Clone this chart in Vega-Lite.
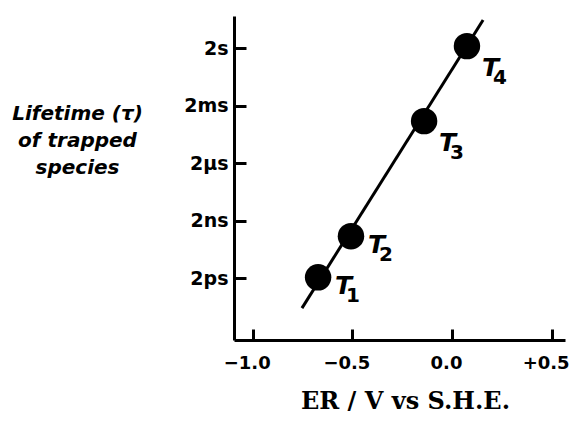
{
  "$schema": "https://vega.github.io/schema/vega-lite/v6.json",
  "width": 331,
  "height": 324,
  "autosize": "none",
  "padding": {"left": 234, "top": 16, "right": 4, "bottom": 86},
  "background": "white",
  "config": {"view": {"stroke": null}},
  "datasets": {
    "pts": [
      {"E": -0.672, "logtau": -11.95, "label": "T", "sub": "1", "grp": "a"},
      {"E": -0.507, "logtau": -9.81, "label": "T", "sub": "2", "grp": "a"},
      {"E": -0.14, "logtau": -3.81, "label": "T", "sub": "3", "grp": "b"},
      {"E": 0.075, "logtau": 0.1, "label": "T", "sub": "4", "grp": "b"}
    ],
    "fit": [
      {"E": -0.753, "logtau": -13.56},
      {"E": 0.156, "logtau": 1.46}
    ]
  },
  "layer": [
    {
      "data": {"name": "fit"},
      "mark": {"type": "line", "color": "black", "strokeWidth": 3},
      "encoding": {
        "x": {
          "field": "E", "type": "quantitative",
          "scale": {"domain": [-1.094, 0.567], "nice": false, "zero": false},
          "axis": {
            "values": [-1, -0.5, 0, 0.5],
            "labelExpr": "datum.value == -1 ? '−1.0' : datum.value == -0.5 ? '−0.5' : datum.value == 0 ? '0.0' : '+0.5'",
            "grid": false,
            "domainColor": "black", "domainWidth": 3,
            "tickColor": "black", "tickWidth": 3, "tickSize": -11,
            "labelFont": "DejaVu Sans", "labelFontWeight": "bold", "labelFontSize": 18,
            "labelColor": "black", "labelPadding": 25, "labelBaseline": "top",
            "labelOffset": -6, "labelBound": false, "labelOverlap": false,
            "title": "ER / V vs S.H.E.",
            "titleFont": "DejaVu Serif", "titleFontWeight": "bold", "titleFontSize": 24,
            "titleColor": "black", "titleX": 171, "titleY": 68, "titleBaseline": "alphabetic",
            "titleAnchor": "middle", "titleAlign": "center"
          }
        },
        "y": {
          "field": "logtau", "type": "quantitative",
          "scale": {"domain": [-15.22, 1.67], "nice": false, "zero": false},
          "axis": {
            "values": [0, -3, -6, -9, -12],
            "labelExpr": "datum.value == 0 ? '2s' : datum.value == -3 ? '2ms' : datum.value == -6 ? '2µs' : datum.value == -9 ? '2ns' : '2ps'",
            "grid": false,
            "domainColor": "black", "domainWidth": 3,
            "tickColor": "black", "tickWidth": 3, "tickSize": -12,
            "labelFont": "DejaVu Sans", "labelFontWeight": "bold", "labelFontSize": 19,
            "labelColor": "black", "labelPadding": 18, "labelOverlap": false,
            "title": ["Lifetime (τ)", "of trapped", "species"],
            "titleFont": "DejaVu Sans", "titleFontWeight": "bold", "titleFontStyle": "italic",
            "titleFontSize": 20, "titleColor": "black", "titleAngle": 0,
            "titleX": -157, "titleY": 103, "titleAlign": "center", "titleBaseline": "alphabetic",
            "titleLineHeight": 27
          }
        }
      }
    },
    {
      "data": {"name": "pts"},
      "mark": {"type": "circle", "color": "black", "opacity": 1, "size": 700},
      "encoding": {
        "x": {"field": "E", "type": "quantitative"},
        "y": {"field": "logtau", "type": "quantitative"}
      }
    },
    {
      "data": {"name": "pts"},
      "transform": [{"filter": "datum.grp == 'a'"}],
      "layer": [
        {
          "mark": {"type": "text", "align": "left", "baseline": "top", "dx": 17, "dy": -3,
                   "font": "DejaVu Sans", "fontWeight": "bold", "fontStyle": "italic", "fontSize": 25, "color": "black"},
          "encoding": {
            "x": {"field": "E", "type": "quantitative"},
            "y": {"field": "logtau", "type": "quantitative"},
            "text": {"field": "label"}
          }
        },
        {
          "mark": {"type": "text", "align": "left", "baseline": "top", "dx": 28, "dy": 9,
                   "font": "DejaVu Sans", "fontWeight": "bold", "fontSize": 20, "color": "black"},
          "encoding": {
            "x": {"field": "E", "type": "quantitative"},
            "y": {"field": "logtau", "type": "quantitative"},
            "text": {"field": "sub"}
          }
        }
      ]
    },
    {
      "data": {"name": "pts"},
      "transform": [{"filter": "datum.grp == 'b'"}],
      "layer": [
        {
          "mark": {"type": "text", "align": "left", "baseline": "top", "dx": 15, "dy": 10,
                   "font": "DejaVu Sans", "fontWeight": "bold", "fontStyle": "italic", "fontSize": 25, "color": "black"},
          "encoding": {
            "x": {"field": "E", "type": "quantitative"},
            "y": {"field": "logtau", "type": "quantitative"},
            "text": {"field": "label"}
          }
        },
        {
          "mark": {"type": "text", "align": "left", "baseline": "top", "dx": 26, "dy": 22,
                   "font": "DejaVu Sans", "fontWeight": "bold", "fontSize": 20, "color": "black"},
          "encoding": {
            "x": {"field": "E", "type": "quantitative"},
            "y": {"field": "logtau", "type": "quantitative"},
            "text": {"field": "sub"}
          }
        }
      ]
    }
  ]
}
